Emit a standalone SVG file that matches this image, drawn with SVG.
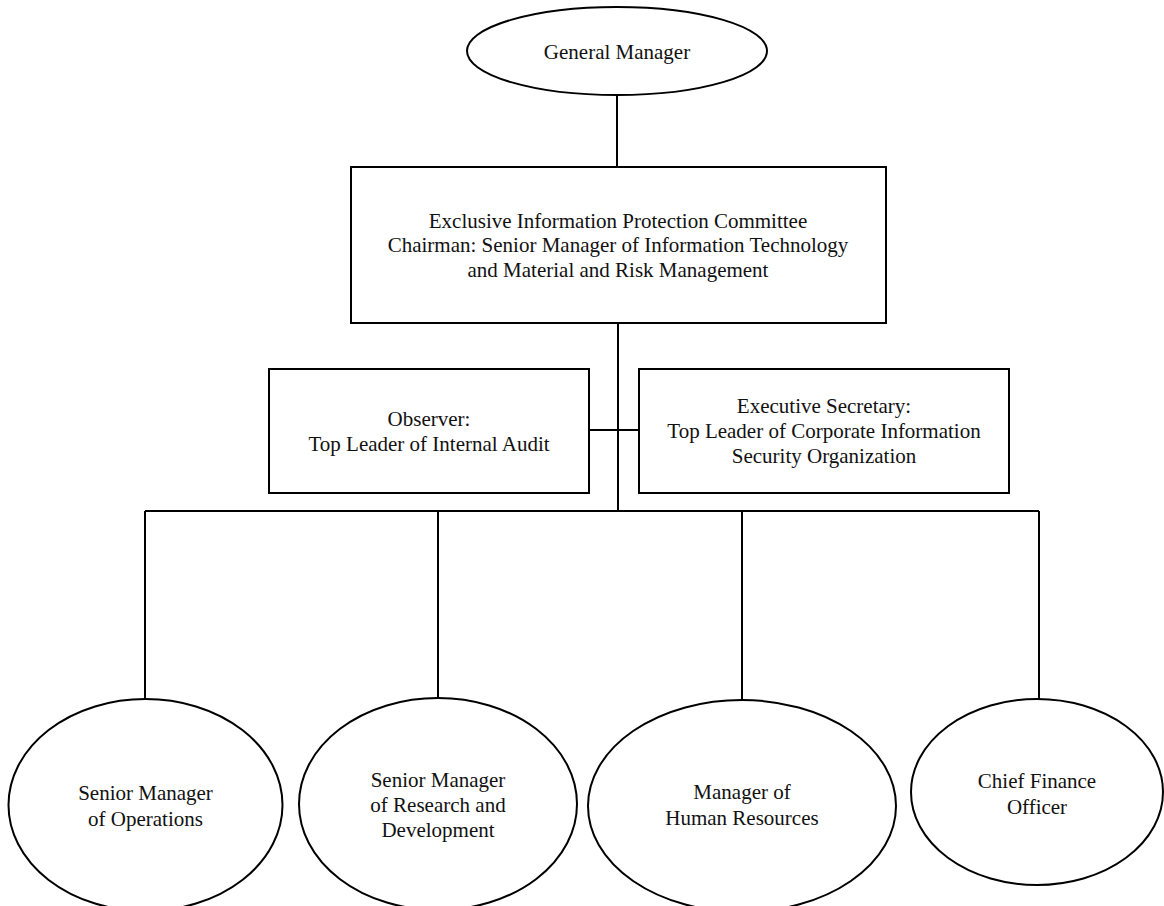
<svg xmlns="http://www.w3.org/2000/svg" width="1164" height="906" viewBox="0 0 1164 906">
<style>
.shape{fill:#fff;stroke:#000;stroke-width:2}
.conn{fill:none;stroke:#000;stroke-width:2}
.lbl{font-family:'Times New Roman','Liberation Serif','DejaVu Serif',serif;font-size:21px;fill:#111;text-anchor:middle}
</style>
<rect width="1164" height="906" fill="#fff"/>
<g id="connectors">
<path class="conn" d="M617,95 V167"/>
<path class="conn" d="M618,323 V512"/>
<path class="conn" d="M589,430 H639"/>
<path class="conn" d="M145,511 H1039"/>
<path class="conn" d="M145,511 V700"/>
<path class="conn" d="M438,511 V699"/>
<path class="conn" d="M742,511 V700"/>
<path class="conn" d="M1039,511 V700"/>
</g>
<g font-family="Liberation Serif, serif">
<g id="general-manager">
<ellipse class="shape" cx="617" cy="51" rx="150" ry="44"/>
<text class="lbl" x="617" y="59">General Manager</text>
</g>
<g id="committee">
<rect class="shape" x="351" y="167" width="535" height="156"/>
<text class="lbl" x="618" y="228">Exclusive Information Protection Committee</text>
<text class="lbl" x="618" y="252">Chairman: Senior Manager of Information Technology</text>
<text class="lbl" x="618" y="277">and Material and Risk Management</text>
</g>
<g id="observer">
<rect class="shape" x="269" y="369" width="320" height="124"/>
<text class="lbl" x="429" y="426">Observer:</text>
<text class="lbl" x="429" y="451">Top Leader of Internal Audit</text>
</g>
<g id="executive-secretary">
<rect class="shape" x="639" y="369" width="370" height="124"/>
<text class="lbl" x="824" y="413">Executive Secretary:</text>
<text class="lbl" x="824" y="438">Top Leader of Corporate Information</text>
<text class="lbl" x="824" y="463">Security Organization</text>
</g>
<g id="operations">
<ellipse class="shape" cx="145.5" cy="805" rx="137" ry="106"/>
<text class="lbl" x="145.5" y="800">Senior Manager</text>
<text class="lbl" x="145.5" y="826">of Operations</text>
</g>
<g id="research">
<ellipse class="shape" cx="438" cy="804" rx="139" ry="106"/>
<text class="lbl" x="438" y="787">Senior Manager</text>
<text class="lbl" x="438" y="812">of Research and</text>
<text class="lbl" x="438" y="837">Development</text>
</g>
<g id="human-resources">
<ellipse class="shape" cx="742" cy="806" rx="154" ry="106"/>
<text class="lbl" x="742" y="799">Manager of</text>
<text class="lbl" x="742" y="825">Human Resources</text>
</g>
<g id="cfo">
<ellipse class="shape" cx="1037" cy="792" rx="126" ry="93"/>
<text class="lbl" x="1037" y="788">Chief Finance</text>
<text class="lbl" x="1037" y="814">Officer</text>
</g>
</g>
</svg>
